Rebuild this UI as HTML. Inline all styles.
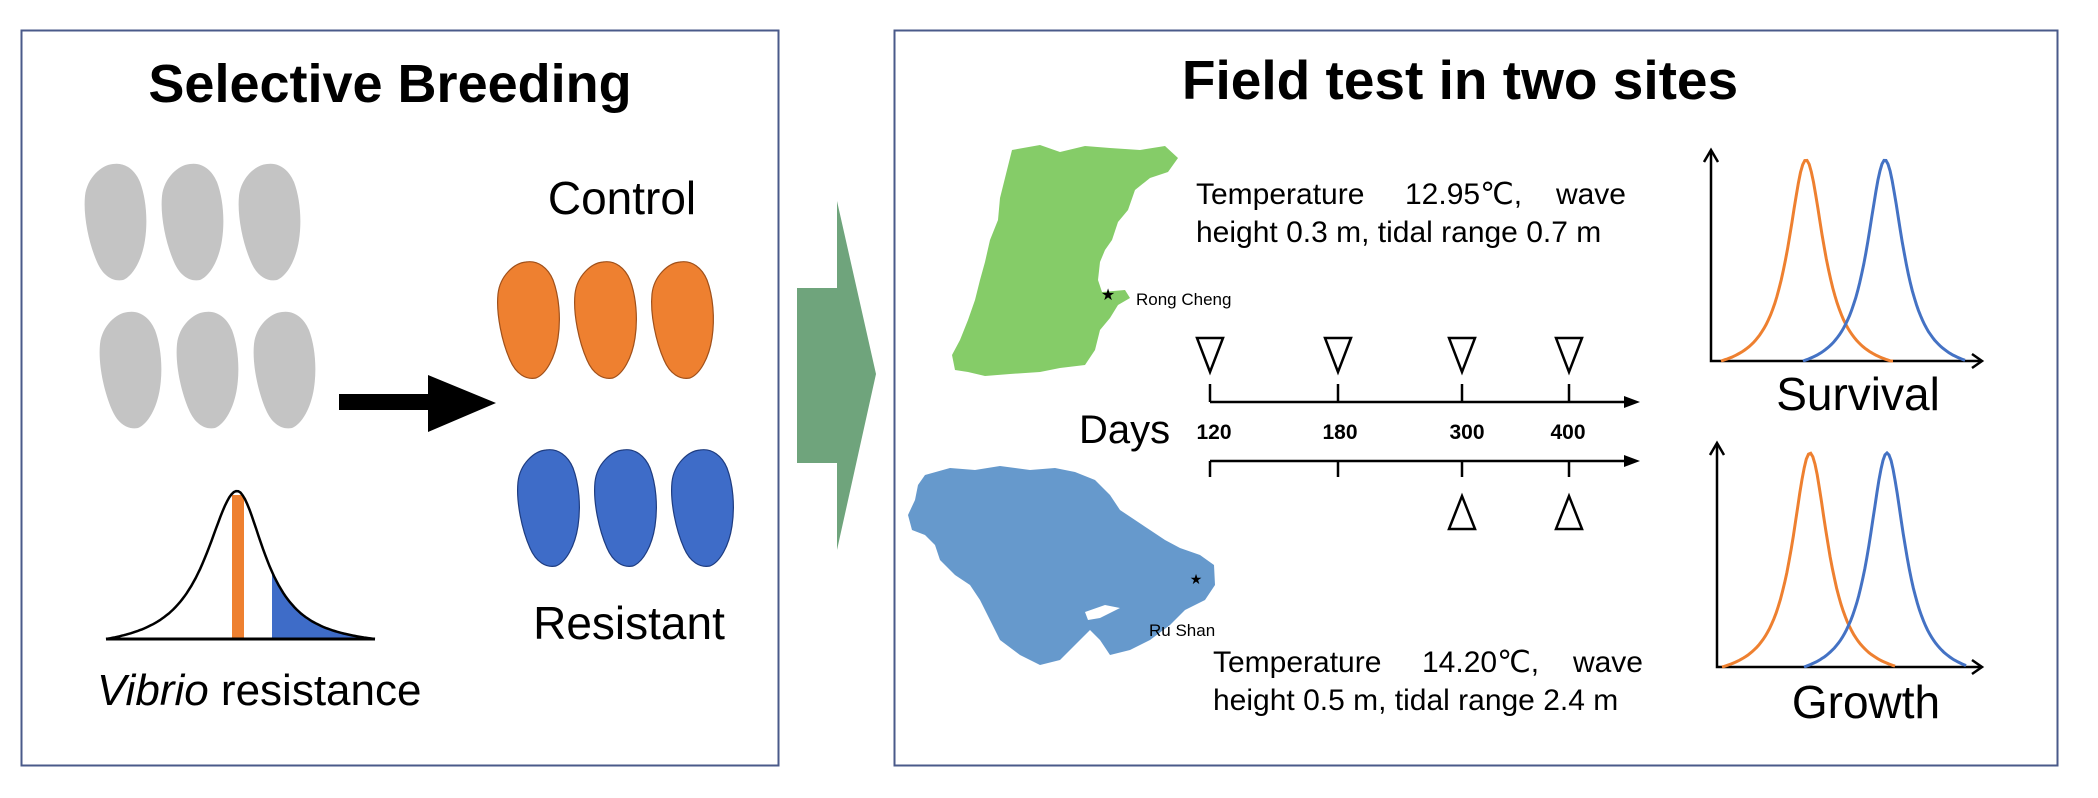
<!DOCTYPE html>
<html><head><meta charset="utf-8"><style>
html,body{margin:0;padding:0;background:#fff;}
svg{display:block;}
text{font-family:"Liberation Sans",Arial,sans-serif;}
</style></head><body>
<svg id="s" width="2098" height="798" viewBox="0 0 2098 798" xmlns="http://www.w3.org/2000/svg">
<defs>
<path id="oy" d="M-2,-58 C10,-60 20,-52 25,-40 C31,-24 33,-2 30,18 C27,38 18,54 8,58 C-2,60 -12,54 -18,40 C-26,22 -32,-6 -30,-26 C-28,-44 -14,-57 -2,-58 Z"/>
</defs>
<rect x="0" y="0" width="2098" height="798" fill="#fff"/>
<rect x="21.5" y="30.5" width="757" height="735" fill="#fff" stroke="#4a5a8a" stroke-width="2"/>
<text x="390" y="102" font-size="54" font-weight="bold" text-anchor="middle">Selective Breeding</text>
<g fill="#c4c4c4">
<use href="#oy" transform="translate(115,222)"/><use href="#oy" transform="translate(192,222)"/><use href="#oy" transform="translate(269,222)"/>
<use href="#oy" transform="translate(130,370)"/><use href="#oy" transform="translate(207,370)"/><use href="#oy" transform="translate(284,370)"/>
</g>
<g fill="#ee8030" stroke="#a0501a" stroke-width="1.2">
<use href="#oy" transform="translate(528,320)"/><use href="#oy" transform="translate(605,320)"/><use href="#oy" transform="translate(682,320)"/>
</g>
<g fill="#3e6cc8" stroke="#1e3c80" stroke-width="1.2">
<use href="#oy" transform="translate(548,508)"/><use href="#oy" transform="translate(625,508)"/><use href="#oy" transform="translate(702,508)"/>
</g>
<polygon points="339,394 428,394 428,375 496,403 428,432 428,410 339,410" fill="#000"/>
<text x="622" y="214" font-size="46" text-anchor="middle">Control</text>
<text x="629" y="639" font-size="46" text-anchor="middle">Resistant</text>
<path id="bellfill" fill="#3e6cc8" d=""/>
<rect x="232" y="495" width="12" height="144" fill="#ee8030"/>
<path id="bell" fill="none" stroke="#000" stroke-width="2.5" d=""/>
<line x1="106" y1="639" x2="375" y2="639" stroke="#000" stroke-width="3"/>
<text x="97" y="705" font-size="44"><tspan font-style="italic">Vibrio</tspan> resistance</text>
<polygon points="797,288 837,288 837,201 876,374 837,550 837,463 797,463" fill="#6fa47c"/>
<rect x="894.5" y="30.5" width="1163" height="735" fill="#fff" stroke="#4a5a8a" stroke-width="2"/>
<text x="1460" y="99" font-size="55" font-weight="bold" text-anchor="middle">Field test in two sites</text>
<path fill="#85cc68" d="M1012,150 L1040,145 L1060,152 L1085,146 L1110,148 L1140,150 L1165,146 L1178,158 L1168,172 L1150,178 L1135,190 L1128,210 L1118,222 L1112,240 L1105,250 L1100,262 L1098,280 L1102,292 L1125,290 L1130,298 L1118,305 L1110,318 L1100,330 L1095,350 L1085,365 L1060,368 L1040,372 L1010,374 L985,376 L968,372 L955,370 L952,355 L960,340 L968,320 L975,300 L980,280 L985,262 L990,240 L998,220 L1000,198 L1005,178 Z"/>
<path fill="#6699cc" d="M925,475 L950,468 L975,470 L1000,466 L1030,470 L1055,468 L1075,472 L1095,480 L1110,495 L1120,510 L1135,520 L1150,530 L1165,540 L1180,548 L1200,555 L1214,565 L1215,585 L1205,600 L1185,610 L1170,625 L1150,640 L1130,650 L1110,655 L1100,640 L1090,630 L1075,645 L1060,660 L1040,665 L1020,655 L1000,640 L990,620 L980,600 L970,585 L955,575 L940,560 L935,545 L925,535 L912,530 L908,515 L915,500 L918,485 Z"/>
<path fill="#fff" d="M1085,612 L1105,605 L1120,608 L1100,618 L1088,620 Z"/>
<text x="1108" y="300" font-size="16" text-anchor="middle">★</text>
<text x="1136" y="305" font-size="17">Rong Cheng</text>
<text x="1196" y="584" font-size="14" text-anchor="middle">★</text>
<text x="1149" y="636" font-size="17">Ru Shan</text>
<g font-size="30">
<text x="1196" y="204">Temperature</text><text x="1405" y="204">12.95℃,</text><text x="1626" y="204" text-anchor="end">wave</text>
<text x="1196" y="242">height 0.3 m, tidal range 0.7 m</text>
<text x="1213" y="672">Temperature</text><text x="1422" y="672">14.20℃,</text><text x="1643" y="672" text-anchor="end">wave</text>
<text x="1213" y="710">height 0.5 m, tidal range 2.4 m</text>
</g>
<g stroke="#000" stroke-width="2.5" fill="none">
<line x1="1210" y1="402" x2="1632" y2="402"/>
<line x1="1210" y1="461" x2="1632" y2="461"/>
<line x1="1210" y1="384" x2="1210" y2="402"/><line x1="1338" y1="384" x2="1338" y2="402"/><line x1="1462" y1="384" x2="1462" y2="402"/><line x1="1569" y1="384" x2="1569" y2="402"/>
<line x1="1210" y1="461" x2="1210" y2="477"/><line x1="1338" y1="461" x2="1338" y2="477"/><line x1="1462" y1="461" x2="1462" y2="477"/><line x1="1569" y1="461" x2="1569" y2="477"/>
<polygon points="1197,338 1223,338 1210,372"/><polygon points="1325,338 1351,338 1338,372"/><polygon points="1449,338 1475,338 1462,372"/><polygon points="1556,338 1582,338 1569,372"/>
<polygon points="1449,529 1475,529 1462,496"/><polygon points="1556,529 1582,529 1569,496"/>
</g>
<polygon points="1640,402 1624,396 1624,408" fill="#000"/>
<polygon points="1640,461 1624,455 1624,467" fill="#000"/>
<text x="1079" y="443" font-size="40">Days</text>
<g font-size="21" font-weight="bold" text-anchor="middle">
<text x="1214" y="439">120</text><text x="1340" y="439">180</text><text x="1467" y="439">300</text><text x="1568" y="439">400</text>
</g>
<g stroke="#000" stroke-width="2.5" fill="none">
<polyline points="1711,150 1711,361 1982,361"/>
<polyline points="1704,162 1711,150 1718,162"/>
<polyline points="1972,354 1982,361 1972,368"/>
<polyline points="1717,443 1717,667 1982,667"/>
<polyline points="1710,455 1717,443 1724,455"/>
<polyline points="1972,660 1982,667 1972,674"/>
</g>
<g fill="none" stroke-width="3">
<path id="c1" stroke="#ee8030"/><path id="c2" stroke="#4472c4"/>
<path id="c3" stroke="#ee8030"/><path id="c4" stroke="#4472c4"/>
</g>
<text x="1858" y="410" font-size="46" text-anchor="middle">Survival</text>
<text x="1866" y="718" font-size="46" text-anchor="middle">Growth</text>
</svg>
<script>
function peak(x0,x1,xp,yb,yt,w){var d="";for(var i=0;i<=80;i++){var x=x0+(x1-x0)*i/80;var t=(x-xp)/w;var y0=1/(1+Math.pow((x0-xp)/w,2));var f=(1/(1+t*t)-y0)/(1-y0);var y=yb-(yb-yt)*Math.max(0,f);d+=(i?"L":"M")+x.toFixed(1)+","+y.toFixed(1);}return d;}
document.getElementById("c1").setAttribute("d",peak(1721,1893,1806,361,160,22));
document.getElementById("c2").setAttribute("d",peak(1803,1965,1885,361,160,22));
document.getElementById("c3").setAttribute("d",peak(1722,1895,1810,667,453,22));
document.getElementById("c4").setAttribute("d",peak(1804,1966,1887,667,453,22));
var d="",fd="M272,639";
function bell(x){var w=x<237?38:34;var t=(x-237)/w;var e=x<237?1/(1+Math.pow(131/w,2)):1/(1+Math.pow(138/w,2));var f=(1/(1+t*t)-e)/(1-e);return 639-148*Math.max(0,f);}
for(var i=0;i<=120;i++){var x=106+269*i/120;var y=bell(x);d+=(i?"L":"M")+x.toFixed(1)+","+y.toFixed(1);if(x>=272)fd+="L"+x.toFixed(1)+","+y.toFixed(1);}
fd+="L375,639Z";
document.getElementById("bell").setAttribute("d",d);document.getElementById("bellfill").setAttribute("d",fd.replace("M272,639","M272,639L272,"+bell(272).toFixed(1)));
</script>
</body></html>
